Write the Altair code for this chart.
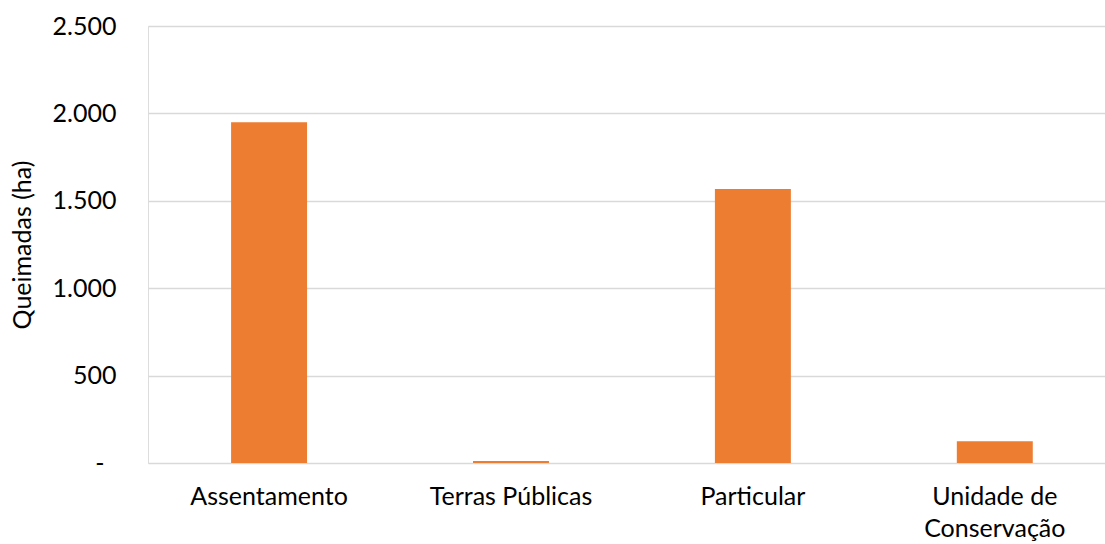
import altair as alt
import pandas as pd

# Burned area by land category (hectares)
categories = ["Assentamento", "Terras Públicas", "Particular", "Unidade de Conservação"]
burned_ha = [1950, 12, 1567, 125]

df = pd.DataFrame({"categoria": categories, "queimadas": burned_ha})

FONT = "Lato"

bars = alt.Chart(df).mark_bar(color="#ED7D31").encode(
    x=alt.X(
        "categoria:N",
        sort=categories,
        title=None,
        scale=alt.Scale(paddingInner=0.686, paddingOuter=0.321, align=0.535),
        axis=alt.Axis(
            labelAngle=0,
            labelFont=FONT,
            labelFontSize=25,
            labelColor="#000000",
            labelPadding=21,
            labelLineHeight=32,
            labelExpr="datum.label == 'Unidade de Conservação' ? ['Unidade de', 'Conservação'] : datum.label",
            ticks=False,
            domain=False,
        ),
    ),
    y=alt.Y(
        "queimadas:Q",
        title="Queimadas (ha)",
        scale=alt.Scale(domain=[0, 2500], nice=False),
        axis=alt.Axis(
            values=[0, 500, 1000, 1500, 2000, 2500],
            format=",.0f",
            labelExpr="datum.value == 0 ? '-' : replace(datum.label, ',', '.')",
            labelFont=FONT,
            labelFontSize=25,
            labelColor="#000000",
            labelPadding={"condition": {"test": "datum.value == 0", "value": 44}, "value": 32},
            ticks=False,
            domain=False,
            grid=True,
            gridColor="#D9D9D9",
            gridWidth=1.3,
            titleFont=FONT,
            titleFontSize=25,
            titleFontWeight="normal",
            titleColor="#000000",
            titlePadding=17,
        ),
    ),
)

chart = bars.properties(
    width=957,
    height=437,
    autosize="none",
    padding={"left": 148, "top": 26, "right": 0, "bottom": 81},
).configure_view(stroke=None).configure(background="#FFFFFF")

chart.save("out.html", embed_options={"renderer": "svg", "actions": False})
